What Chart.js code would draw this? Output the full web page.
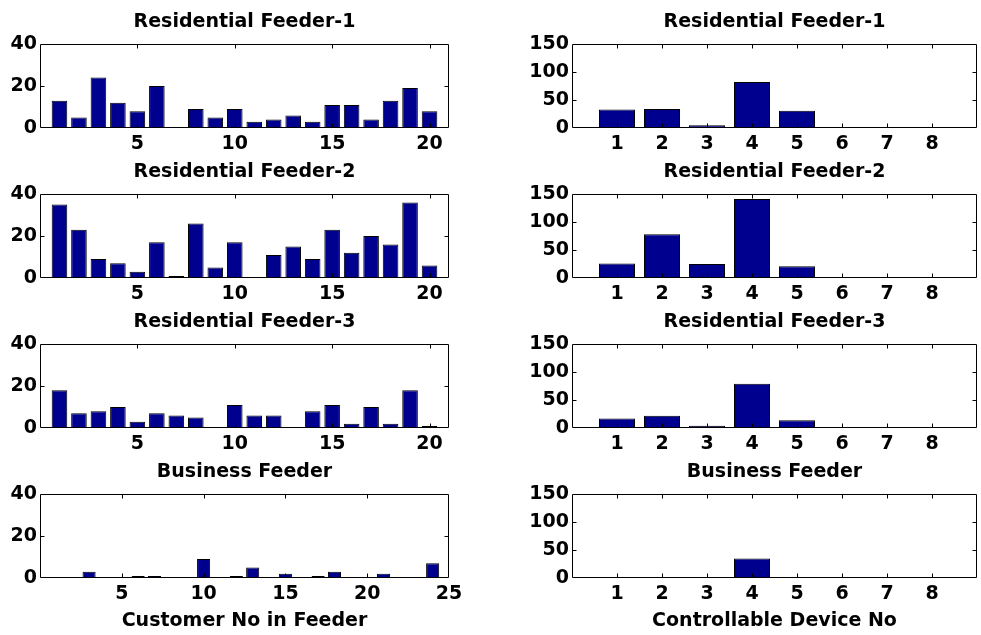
<!DOCTYPE html>
<html>
<head>
<meta charset="utf-8">
<script src="https://cdn.jsdelivr.net/npm/chart.js@4/dist/chart.umd.min.js"></script>
<style>
  html, body { margin: 0; padding: 0; background: #fff; overflow: hidden; width: 981px; height: 635px; }
  canvas { position: absolute; }
</style>
</head>
<body>
<canvas id="p0"></canvas>
<canvas id="p1"></canvas>
<canvas id="p2"></canvas>
<canvas id="p3"></canvas>
<canvas id="p4"></canvas>
<canvas id="p5"></canvas>
<canvas id="p6"></canvas>
<canvas id="p7"></canvas>
<script>
// Customer numbers in each feeder
const residentialCustomers = [1, 2, 3, 4, 5, 6, 7, 8, 9, 10, 11, 12, 13, 14, 15, 16, 17, 18, 19, 20];
const businessCustomers = [1, 2, 3, 4, 5, 6, 7, 8, 9, 10, 11, 12, 13, 14, 15, 16, 17, 18, 19, 20, 21, 22, 23, 24];
// Controllable device numbers
const deviceNumbers = [1, 2, 3, 4, 5, 6, 7, 8];

// Per-customer counts
const res1Customers = [13, 5, 24, 12, 8, 20, 0, 9, 5, 9, 3, 4, 6, 3, 11, 11, 4, 13, 19, 8];
const res2Customers = [35, 23, 9, 7, 3, 17, 1, 26, 5, 17, 0, 11, 15, 9, 23, 12, 20, 16, 36, 6];
const res3Customers = [18, 7, 8, 10, 3, 7, 6, 5, 0, 11, 6, 6, 0, 8, 11, 2, 10, 2, 18, 1];
const busCustomers = [0, 0, 3, 0, 0, 1, 1, 0, 0, 9, 0, 1, 5, 0, 2, 0, 1, 3, 0, 0, 2, 0, 0, 7];

// Per-device counts
const res1Devices = [33, 34, 5, 82, 31, 0, 2, 2];
const res2Devices = [26, 78, 25, 141, 21, 0, 0, 0];
const res3Devices = [17, 22, 4, 79, 14, 0, 0, 0];
const busDevices = [0, 0, 0, 35, 0, 0, 0, 0];

// Axis tick settings
const customerTickStep = 5;
const customerAxisMax = 21;
const businessAxisMax = 25;
const deviceAxisMax = 9;
const customerYMax = 40;
const customerYStep = 20;
const deviceYMax = 150;
const deviceYStep = 50;

const feederTitles = ['Residential Feeder-1', 'Residential Feeder-2', 'Residential Feeder-3', 'Business Feeder'];
const leftXTitle = 'Customer No in Feeder';
const rightXTitle = 'Controllable Device No';

Chart.defaults.font.family = 'DejaVu Sans';
Chart.defaults.font.size = 19;
Chart.defaults.font.weight = 'bold';
Chart.defaults.color = '#000';

const BAR_FILL = '#00008f';
const TITLE_BLOCK = 35;     // height reserved above each axes box
const PLOT_H = 84;          // axes box height
const ROW_TOPS = [44, 194, 344, 494];

// Boxed axes with inward tick marks on all four sides
const axesBox = {
  id: 'axesBox',
  afterDatasetsDraw(chart) {
    const { ctx, chartArea: a, scales } = chart;
    const x = scales.x, y = scales.y;
    const L = a.left + 0.5, R = a.right - 0.5, T = a.top + 0.5, B = a.bottom - 0.5;
    ctx.save();
    ctx.strokeStyle = '#000';
    ctx.lineWidth = 1;
    ctx.beginPath();
    ctx.rect(L, T, R - L, B - T);
    x.ticks.forEach(t => {
      if (t.label === '' || t.label === undefined) return;
      const px = Math.round(x.getPixelForValue(t.value)) + 0.5;
      if (px <= L + 1 || px >= R - 1) return;
      ctx.moveTo(px, T); ctx.lineTo(px, T + 4);
      ctx.moveTo(px, B); ctx.lineTo(px, B - 4);
    });
    y.ticks.forEach(t => {
      const py = Math.round(y.getPixelForValue(t.value)) + 0.5;
      if (py <= T + 1 || py >= B - 1) return;
      ctx.moveTo(L, py); ctx.lineTo(L + 4, py);
      ctx.moveTo(R, py); ctx.lineTo(R - 4, py);
    });
    ctx.stroke();
    ctx.restore();
  }
};

function makePanel(id, opts) {
  const canvas = document.getElementById(id);
  const xAxisH = opts.xTitle ? 56 : 30;
  const height = TITLE_BLOCK + PLOT_H + xAxisH;
  canvas.width = opts.width;
  canvas.height = height;
  canvas.style.left = opts.left + 'px';
  canvas.style.top = (opts.top - TITLE_BLOCK) + 'px';
  canvas.style.width = opts.width + 'px';
  canvas.style.height = height + 'px';

  const points = opts.cats.map((c, i) => ({ x: c, y: opts.values[i] }));

  return new Chart(canvas, {
    type: 'bar',
    data: {
      datasets: [{
        data: points,
        backgroundColor: BAR_FILL,
        borderColor: '#000',
        borderWidth: 1,
        barPercentage: 0.8,
        categoryPercentage: 1.0
      }]
    },
    options: {
      responsive: false,
      animation: false,
      devicePixelRatio: 1,
      layout: { padding: { left: 0, right: opts.padRight, top: 0, bottom: 0 } },
      plugins: {
        legend: { display: false },
        tooltip: { enabled: false },
        title: {
          display: true,
          text: opts.title,
          fullSize: false,
          font: { size: 19, weight: 'bold', lineHeight: 1.2 },
          padding: { top: 2, bottom: TITLE_BLOCK - 22.8 - 2 },
          color: '#000'
        }
      },
      scales: {
        x: {
          type: 'linear',
          offset: false,
          min: 0,
          max: opts.xMax,
          grid: { display: false, drawTicks: false, offset: false },
          border: { display: false },
          ticks: {
            stepSize: opts.xStep,
            includeBounds: false,
            autoSkip: false,
            maxRotation: 0,
            padding: 5,
            callback: v => (v > 0 && v < opts.xMaxLabel + 0.001 && v % opts.xStep === 0) ? String(v) : ''
          },
          title: opts.xTitle ? {
            display: true,
            text: opts.xTitle,
            font: { size: 19, weight: 'bold', lineHeight: 1.2 },
            padding: { top: 0, bottom: 2 },
            color: '#000'
          } : { display: false },
          afterFit: s => { s.height = xAxisH; }
        },
        y: {
          min: 0,
          max: opts.yMax,
          grid: { display: false, drawTicks: false },
          border: { display: false },
          ticks: { stepSize: opts.yStep, padding: 3 },
          afterFit: s => { s.width = opts.yAxisW; }
        }
      }
    },
    plugins: [axesBox]
  });
}

const leftData = [res1Customers, res2Customers, res3Customers, busCustomers];
const rightData = [res1Devices, res2Devices, res3Devices, busDevices];

for (let r = 0; r < 4; r++) {
  const isBusiness = r === 3;
  makePanel('p' + (2 * r), {
    left: 0, width: 470, padRight: 21, yAxisW: 40,
    top: ROW_TOPS[r],
    title: feederTitles[r],
    cats: isBusiness ? businessCustomers : residentialCustomers,
    values: leftData[r],
    xMax: isBusiness ? businessAxisMax : customerAxisMax,
    xMaxLabel: isBusiness ? businessAxisMax : customerAxisMax - 1,
    xStep: customerTickStep,
    yMax: customerYMax, yStep: customerYStep,
    xTitle: isBusiness ? leftXTitle : null
  });
  makePanel('p' + (2 * r + 1), {
    left: 512, width: 470, padRight: 0, yAxisW: 60,
    top: ROW_TOPS[r],
    title: feederTitles[r],
    cats: deviceNumbers,
    values: rightData[r],
    xMax: deviceAxisMax,
    xMaxLabel: deviceAxisMax - 1,
    xStep: 1,
    yMax: deviceYMax, yStep: deviceYStep,
    xTitle: isBusiness ? rightXTitle : null
  });
}
</script>
</body>
</html>
